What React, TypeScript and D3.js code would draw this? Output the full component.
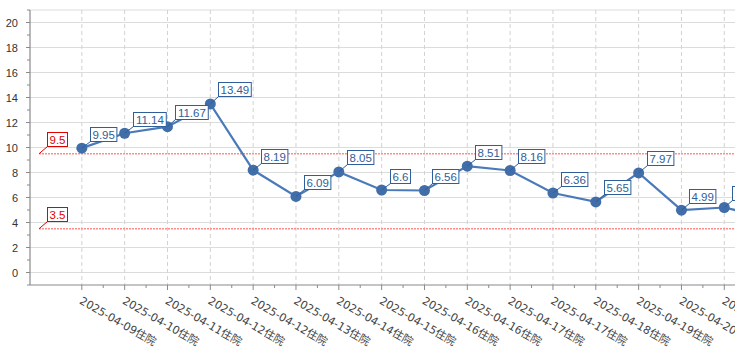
import React from "react";
import * as d3 from "d3";

const categories = [
  "2025-04-09住院", "2025-04-10住院", "2025-04-11住院", "2025-04-12住院",
  "2025-04-12住院", "2025-04-13住院", "2025-04-14住院", "2025-04-15住院",
  "2025-04-16住院", "2025-04-16住院", "2025-04-17住院", "2025-04-17住院",
  "2025-04-18住院", "2025-04-19住院", "2025-04-20住院", "2025-04-21住院",
  "2025-04-22住院",
];
const values = [9.95, 11.14, 11.67, 13.49, 8.19, 6.09, 8.05, 6.6, 6.56, 8.51, 8.16, 6.36, 5.65, 7.97, 4.99, 5.2, 4.4];
const thresholds = [9.5, 3.5];
const yTicks = [0, 2, 4, 6, 8, 10, 12, 14, 16, 18, 20];
const yMinor = [-1, 1, 3, 5, 7, 9, 11, 13, 15, 17, 19, 21];

const W = 735;
const H = 360;
const FONT = "'Liberation Sans', Arial, 'Noto Sans CJK SC', sans-serif";
const XFONT = "'DejaVu Sans', 'Noto Sans CJK SC', sans-serif";
const BLUE = "#4a7ab8";
const LABEL_BLUE = "#2f5e9a";

function textWidth(s: string, size: number) {
  let w = 0;
  for (const ch of s) w += ch === "." ? 0.278 : 0.556;
  return w * size;
}

export default function App() {
  const x = d3.scaleLinear().domain([-1.21, 15.25]).range([30, 735]);
  const y = d3.scaleLinear().domain([-1, 21]).range([285, 10]);
  const left = 30;
  const right = 900;
  const top = y(21);
  const bottom = y(-1);
  const step = x(1) - x(0);

  const line = d3
    .line<number>()
    .x((_, i) => x(i))
    .y((d) => y(d));

  const fmt = (v: number) => String(v);

  const label = (px: number, py: number, text: string, color: string, key: string) => {
    const fs = 11.5;
    const w = textWidth(text, fs) + 4;
    const h = 14;
    const bx = Math.round(px + 8) + 0.5;
    const by = Math.round(py - 7.5 - h) + 0.5;
    return (
      <g key={key}>
        <line x1={px} y1={py} x2={bx} y2={by + h} stroke={color} strokeWidth={1} />
        <rect x={bx} y={by} width={w} height={h} fill="#fff" stroke={color} strokeWidth={1} />
        <text x={bx + w / 2} y={by + h / 2 + 4} textAnchor="middle" fontSize={fs} fill={color} fontFamily={FONT}>
          {text}
        </text>
      </g>
    );
  };

  return (
    <div style={{ position: "fixed", left: 0, top: 0, width: W, height: H, overflow: "hidden", background: "#fff" }}>
      <svg width={W} height={H} style={{ display: "block" }}>
        {yTicks.map((t) => (
          <line key={"hg" + t} x1={left} x2={right} y1={y(t)} y2={y(t)} stroke="#dcdcdc" strokeWidth={1} />
        ))}
        <line x1={left} x2={right} y1={top} y2={top} stroke="#dcdcdc" strokeWidth={1} />
        {categories.map((_, i) => (
          <line key={"vg" + i} x1={x(i)} x2={x(i)} y1={top} y2={bottom} stroke="#d2d2d2" strokeWidth={1} strokeDasharray="4,3" />
        ))}
        {thresholds.map((t) => (
          <line key={"th" + t} x1={x(-1)} x2={right} y1={y(t)} y2={y(t)} stroke="#ff8c8c" strokeWidth={1.6} strokeDasharray="2,1" />
        ))}
        <line x1={left} x2={left} y1={top} y2={bottom} stroke="#8a8a8a" strokeWidth={1.2} />
        <line x1={left} x2={right} y1={bottom} y2={bottom} stroke="#8a8a8a" strokeWidth={1.2} />
        {yTicks.map((t) => (
          <g key={"yt" + t}>
            <line x1={left - 4} x2={left} y1={y(t)} y2={y(t)} stroke="#8a8a8a" />
            <text x={left - 12} y={y(t) + 4} textAnchor="end" fontSize={11} fill="#333" fontFamily={FONT}>
              {t}
            </text>
          </g>
        ))}
        {yMinor.map((t) => (
          <line key={"ym" + t} x1={left - 3} x2={left} y1={y(t)} y2={y(t)} stroke="#8a8a8a" />
        ))}
        {categories.map((c, i) => (
          <g key={"xt" + i}>
            <line x1={x(i)} x2={x(i)} y1={bottom} y2={bottom + 5} stroke="#8a8a8a" />
            <line x1={x(i) + step / 2} x2={x(i) + step / 2} y1={bottom} y2={bottom + 3} stroke="#8a8a8a" />
            <text
              transform={`translate(${x(i) + 1},${bottom + 11}) rotate(30)`}
              fontSize={11}
              fill="#444"
              fontFamily={XFONT}
              dominantBaseline="hanging"
            >
              {c}
            </text>
          </g>
        ))}
        <path d={line(values) || ""} fill="none" stroke={BLUE} strokeWidth={2.2} />
        {values.map((v, i) => (
          <circle key={"pt" + i} cx={x(i)} cy={y(v)} r={5.5} fill="#416ea9" />
        ))}
        {values.map((v, i) => label(x(i), y(v), fmt(v), LABEL_BLUE, "lb" + i))}
        {thresholds.map((t) => label(x(-1), y(t), fmt(t), "#e00000", "tl" + t))}
      </svg>
    </div>
  );
}
